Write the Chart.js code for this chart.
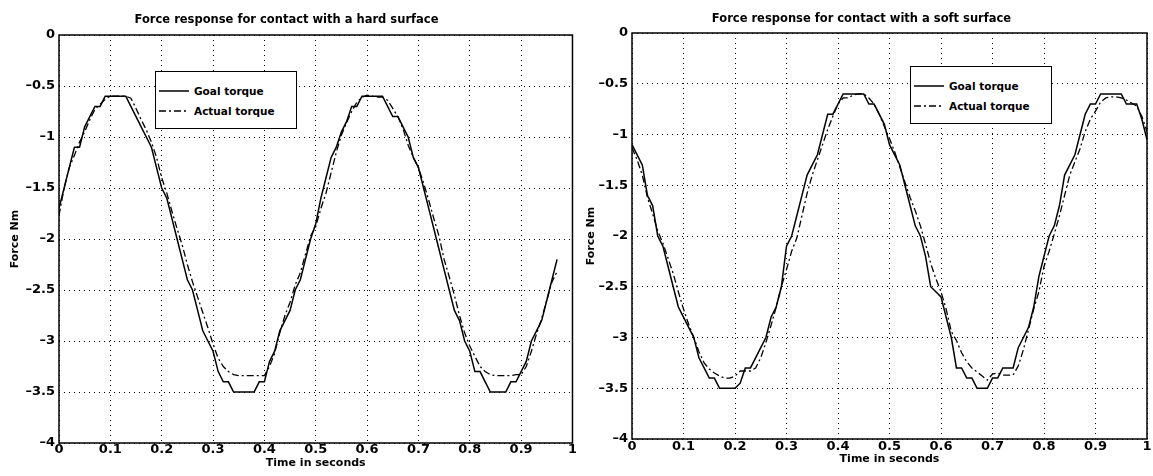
<!DOCTYPE html>
<html>
<head>
<meta charset="utf-8">
<script src="https://cdn.jsdelivr.net/npm/chart.js@4.4.1/dist/chart.umd.min.js"></script>
<style>
  body { margin: 0; background: #fff; }
  #wrap { position: relative; width: 1153px; height: 476px; overflow: hidden; }
  #wrap canvas { position: absolute; top: 0; }
  .legend { position: absolute; width: 142px; height: 58px; border: 1.5px solid #000; background: #fff; box-sizing: border-box;
            font: bold 10.5px "DejaVu Sans", sans-serif; color: #000; }
  .legend .row { position: absolute; left: 3px; height: 16px; display: flex; align-items: center; white-space: nowrap; }
  .legend svg { margin-right: 5px; }
</style>
</head>
<body>
<div id="wrap">
  <canvas id="hard" width="576" height="476" style="left:0"></canvas>
  <canvas id="soft" width="577" height="476" style="left:576px"></canvas>
</div>
<script>
// textes
const titreDur = 'Force response for contact with a hard surface';
const titreMou = 'Force response for contact with a soft surface';
const titreX = 'Time in seconds';
const titreY = 'Force Nm';
const nomsSeries = ['Goal torque', 'Actual torque'];

// graduations
const xTickLabels = ['0', '0.1', '0.2', '0.3', '0.4', '0.5', '0.6', '0.7', '0.8', '0.9', '1'];
const yTickLabels = ['\u20134', '\u20133.5', '\u20133', '\u20132.5', '\u20132', '\u20131.5', '\u20131', '\u20130.5', '0'];

// surface dure (echantillons toutes les 0.01 s)
const tempsDur = [0.00, 0.01, 0.02, 0.03, 0.04, 0.05, 0.06, 0.07, 0.08, 0.09,
  0.10, 0.11, 0.12, 0.13, 0.14, 0.15, 0.16, 0.17, 0.18, 0.19,
  0.20, 0.21, 0.22, 0.23, 0.24, 0.25, 0.26, 0.27, 0.28, 0.29,
  0.30, 0.31, 0.32, 0.33, 0.34, 0.35, 0.36, 0.37, 0.38, 0.39,
  0.40, 0.41, 0.42, 0.43, 0.44, 0.45, 0.46, 0.47, 0.48, 0.49,
  0.50, 0.51, 0.52, 0.53, 0.54, 0.55, 0.56, 0.57, 0.58, 0.59,
  0.60, 0.61, 0.62, 0.63, 0.64, 0.65, 0.66, 0.67, 0.68, 0.69,
  0.70, 0.71, 0.72, 0.73, 0.74, 0.75, 0.76, 0.77, 0.78, 0.79,
  0.80, 0.81, 0.82, 0.83, 0.84, 0.85, 0.86, 0.87, 0.88, 0.89,
  0.90, 0.91, 0.92, 0.93, 0.94, 0.95, 0.96, 0.97];
const consigneDur = [-1.70, -1.50, -1.30, -1.10, -1.10, -0.90, -0.80, -0.70, -0.70, -0.60,
  -0.60, -0.60, -0.60, -0.60, -0.70, -0.80, -0.90, -1.00, -1.10, -1.30,
  -1.50, -1.60, -1.80, -2.00, -2.20, -2.40, -2.50, -2.70, -2.90, -3.00,
  -3.10, -3.30, -3.40, -3.40, -3.50, -3.50, -3.50, -3.50, -3.50, -3.40,
  -3.40, -3.20, -3.10, -2.90, -2.80, -2.70, -2.50, -2.40, -2.20, -2.00,
  -1.85, -1.60, -1.40, -1.20, -1.10, -0.95, -0.85, -0.70, -0.70, -0.60,
  -0.60, -0.60, -0.60, -0.60, -0.70, -0.80, -0.80, -0.90, -1.00, -1.20,
  -1.30, -1.50, -1.70, -1.90, -2.10, -2.30, -2.50, -2.70, -2.80, -3.00,
  -3.10, -3.30, -3.30, -3.40, -3.50, -3.50, -3.50, -3.50, -3.40, -3.40,
  -3.30, -3.20, -3.00, -2.90, -2.80, -2.60, -2.40, -2.20];
const mesureDur = [-1.77, -1.50, -1.30, -1.18, -1.05, -0.95, -0.83, -0.73, -0.68, -0.63,
  -0.60, -0.60, -0.60, -0.60, -0.62, -0.72, -0.83, -0.93, -1.05, -1.20,
  -1.40, -1.55, -1.73, -1.90, -2.06, -2.25, -2.42, -2.57, -2.72, -2.87,
  -3.03, -3.17, -3.25, -3.30, -3.33, -3.34, -3.34, -3.34, -3.34, -3.34,
  -3.34, -3.25, -3.12, -2.92, -2.75, -2.62, -2.45, -2.33, -2.15, -1.97,
  -1.88, -1.70, -1.55, -1.35, -1.15, -0.98, -0.86, -0.75, -0.66, -0.61,
  -0.59, -0.60, -0.61, -0.61, -0.64, -0.72, -0.80, -0.92, -1.08, -1.20,
  -1.30, -1.45, -1.62, -1.80, -1.97, -2.20, -2.37, -2.55, -2.75, -2.92,
  -3.05, -3.15, -3.25, -3.30, -3.33, -3.34, -3.34, -3.34, -3.34, -3.33,
  -3.33, -3.25, -3.10, -2.93, -2.78, -2.60, -2.42, -2.32];

// surface molle
const tempsMou = [0.00, 0.01, 0.02, 0.03, 0.04, 0.05, 0.06, 0.07, 0.08, 0.09,
  0.10, 0.11, 0.12, 0.13, 0.14, 0.15, 0.16, 0.17, 0.18, 0.19,
  0.20, 0.21, 0.22, 0.23, 0.24, 0.25, 0.26, 0.27, 0.28, 0.29,
  0.30, 0.31, 0.32, 0.33, 0.34, 0.35, 0.36, 0.37, 0.38, 0.39,
  0.40, 0.41, 0.42, 0.43, 0.44, 0.45, 0.46, 0.47, 0.48, 0.49,
  0.50, 0.51, 0.52, 0.53, 0.54, 0.55, 0.56, 0.57, 0.58, 0.59,
  0.60, 0.61, 0.62, 0.63, 0.64, 0.65, 0.66, 0.67, 0.68, 0.69,
  0.70, 0.71, 0.72, 0.73, 0.74, 0.75, 0.76, 0.77, 0.78, 0.79,
  0.80, 0.81, 0.82, 0.83, 0.84, 0.85, 0.86, 0.87, 0.88, 0.89,
  0.90, 0.91, 0.92, 0.93, 0.94, 0.95, 0.96, 0.97, 0.98, 0.99, 1.00];
const consigneMou = [-1.10, -1.20, -1.30, -1.60, -1.70, -2.00, -2.10, -2.30, -2.50, -2.70,
  -2.80, -2.90, -3.00, -3.20, -3.30, -3.40, -3.40, -3.50, -3.50, -3.50,
  -3.50, -3.45, -3.30, -3.30, -3.20, -3.10, -3.00, -2.80, -2.70, -2.50,
  -2.10, -2.00, -1.80, -1.60, -1.40, -1.30, -1.20, -1.00, -0.80, -0.80,
  -0.70, -0.60, -0.60, -0.60, -0.60, -0.60, -0.70, -0.70, -0.80, -0.90,
  -1.10, -1.20, -1.30, -1.50, -1.70, -1.90, -2.00, -2.20, -2.50, -2.55,
  -2.60, -2.80, -3.00, -3.30, -3.30, -3.40, -3.40, -3.50, -3.50, -3.50,
  -3.40, -3.40, -3.30, -3.30, -3.30, -3.10, -3.00, -2.90, -2.70, -2.40,
  -2.20, -2.00, -1.90, -1.70, -1.40, -1.30, -1.20, -1.00, -0.80, -0.70,
  -0.70, -0.60, -0.60, -0.60, -0.60, -0.60, -0.70, -0.70, -0.70, -0.85, -1.05];
const mesureMou = [-1.13, -1.25, -1.40, -1.62, -1.78, -1.95, -2.07, -2.22, -2.37, -2.55,
  -2.72, -2.87, -3.00, -3.14, -3.25, -3.31, -3.35, -3.38, -3.40, -3.40,
  -3.38, -3.33, -3.33, -3.33, -3.30, -3.20, -3.05, -2.88, -2.70, -2.50,
  -2.33, -2.15, -2.02, -1.80, -1.58, -1.40, -1.25, -1.10, -0.95, -0.82,
  -0.70, -0.64, -0.64, -0.61, -0.60, -0.60, -0.64, -0.70, -0.80, -0.92,
  -1.04, -1.17, -1.32, -1.47, -1.62, -1.75, -1.90, -2.08, -2.27, -2.42,
  -2.55, -2.72, -2.94, -3.03, -3.15, -3.24, -3.30, -3.34, -3.38, -3.42,
  -3.36, -3.35, -3.37, -3.37, -3.37, -3.28, -3.12, -2.92, -2.72, -2.55,
  -2.30, -2.15, -1.98, -1.80, -1.60, -1.40, -1.27, -1.14, -0.97, -0.85,
  -0.77, -0.68, -0.64, -0.63, -0.63, -0.64, -0.66, -0.69, -0.72, -0.82, -0.97];

const police = '"DejaVu Sans", sans-serif';

// cadre noir autour de la zone de trace
const pluginCadre = {
  id: 'cadre',
  afterDraw(chart) {
    const { ctx, chartArea: a } = chart;
    ctx.save();
    ctx.strokeStyle = '#000';
    ctx.lineWidth = 1.5;
    ctx.strokeRect(a.left, a.top, a.right - a.left, a.bottom - a.top);
    ctx.restore();
  }
};

function enPoints(temps, valeurs) {
  return temps.map((t, i) => ({ x: t, y: valeurs[i] }));
}

function creerGraphique(id, titre, temps, consigne, mesure, reglage) {
  const ctx = document.getElementById(id).getContext('2d');
  return new Chart(ctx, {
    type: 'line',
    data: {
      datasets: [
        { label: nomsSeries[0], data: enPoints(temps, consigne), borderColor: '#000', borderWidth: 1.5,
          pointRadius: 0, tension: 0, fill: false },
        { label: nomsSeries[1], data: enPoints(temps, mesure), borderColor: '#000', borderWidth: 1.3,
          borderDash: [7, 3, 2, 3], pointRadius: 0, tension: 0, fill: false }
      ]
    },
    options: {
      responsive: false,
      animation: false,
      devicePixelRatio: 1,
      layout: { padding: { right: reglage.droite, bottom: 0, top: 0, left: 0 } },
      plugins: {
        legend: { display: false },
        tooltip: { enabled: false },
        title: {
          display: true, text: titre, color: '#000',
          font: { family: police, size: 11.5, weight: 'bold' },
          padding: { top: reglage.titreHaut, bottom: reglage.titreBas }
        }
      },
      scales: {
        x: {
          type: 'linear', min: 0, max: 1,
          afterFit: s => { s.height = reglage.hauteurX; },
          ticks: { stepSize: 0.1, color: '#000', padding: reglage.ticksX, maxRotation: 0,
                   font: { family: police, size: 13, weight: 'bold' },
                   callback: (v, i) => xTickLabels[i] },
          grid: { color: '#000', lineWidth: 1, drawTicks: false },
          border: { display: false, dash: [1, 4] },
          title: { display: true, text: titreX, color: '#000',
                   font: { family: police, size: 11, weight: 'bold' },
                   padding: { top: 0, bottom: reglage.titreXBas } }
        },
        y: {
          min: -4, max: 0,
          afterFit: s => { s.width = reglage.largeurY; },
          ticks: { stepSize: 0.5, color: '#000', padding: 4,
                   font: { family: police, size: 13, weight: 'bold' },
                   callback: (v, i) => yTickLabels[i] },
          grid: { color: '#000', lineWidth: 1, drawTicks: false },
          border: { display: false, dash: [1, 4] },
          title: { display: true, text: titreY, color: '#000',
                   font: { family: police, size: 11, weight: 'bold' },
                   padding: { top: 9, bottom: 0 } }
        }
      }
    },
    plugins: [pluginCadre]
  });
}

function creerLegende(gauche, haut) {
  const boite = document.createElement('div');
  boite.className = 'legend';
  boite.style.left = gauche + 'px';
  boite.style.top = haut + 'px';
  const tirets = ['', '7,3,2,3'];
  nomsSeries.forEach((nom, i) => {
    const ligne = document.createElement('div');
    ligne.className = 'row';
    ligne.style.top = (11 + i * 20) + 'px';
    ligne.innerHTML = '<svg width="30" height="4"><line x1="0" y1="2" x2="30" y2="2" stroke="#000" stroke-width="1.5"' +
      (tirets[i] ? ' stroke-dasharray="' + tirets[i] + '"' : '') + '/></svg><span>' + nom + '</span>';
    boite.appendChild(ligne);
  });
  document.getElementById('wrap').appendChild(boite);
}

creerGraphique('hard', titreDur, tempsDur, consigneDur, mesureDur,
  { droite: 3, titreHaut: 13, titreBas: 8.2, hauteurX: 33, largeurY: 59, ticksX: -1, titreXBas: 6 });
creerGraphique('soft', titreMou, tempsMou, consigneMou, mesureMou,
  { droite: 6, titreHaut: 12, titreBas: 7.2, hauteurX: 37, largeurY: 56, ticksX: 0, titreXBas: 10 });
creerLegende(155, 71);
creerLegende(910, 66);
</script>
</body>
</html>
